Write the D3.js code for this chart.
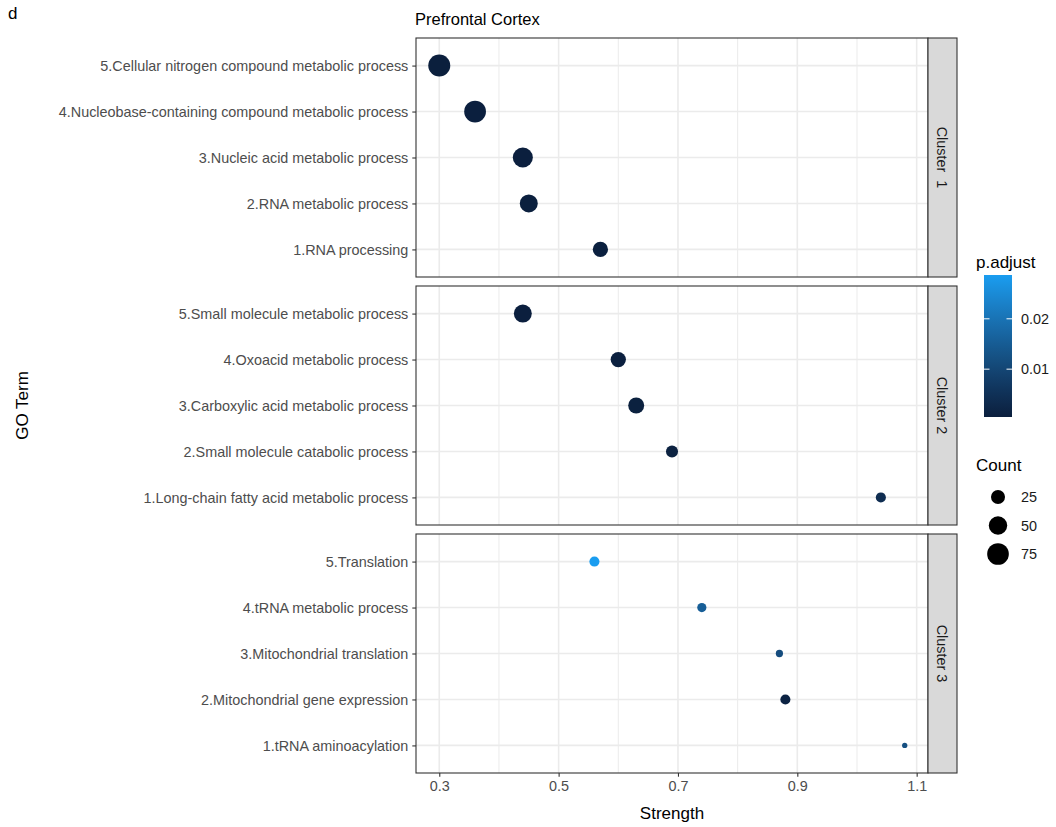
<!DOCTYPE html>
<html lang="en">
<head>
  <meta charset="UTF-8" />
  <title>Prefrontal Cortex GO terms</title>
  <script src="https://d3js.org/d3.v7.min.js"></script>
  <style>
    body { margin: 0; background: #fff; font-family: "Liberation Sans", Arial, sans-serif; }
    svg { display: block; }
  </style>
</head>
<body>
<svg width="1056" height="827"></svg>
<script>
// facets, terms listed top to bottom inside each facet
const clusters = ["Cluster  1", "Cluster 2", "Cluster 3"];
const terms = [
  ["5.Cellular nitrogen compound metabolic process",
   "4.Nucleobase-containing compound metabolic process",
   "3.Nucleic acid metabolic process",
   "2.RNA metabolic process",
   "1.RNA processing"],
  ["5.Small molecule metabolic process",
   "4.Oxoacid metabolic process",
   "3.Carboxylic acid metabolic process",
   "2.Small molecule catabolic process",
   "1.Long-chain fatty acid metabolic process"],
  ["5.Translation",
   "4.tRNA metabolic process",
   "3.Mitochondrial translation",
   "2.Mitochondrial gene expression",
   "1.tRNA aminoacylation"]
];
const strength = [
  [0.30, 0.36, 0.44, 0.45, 0.57],
  [0.44, 0.60, 0.63, 0.69, 1.04],
  [0.56, 0.74, 0.87, 0.88, 1.08]
];
const counts = [
  [78, 76, 62, 47, 31],
  [47, 31, 35, 17, 11],
  [11, 9, 6, 11, 5]
];
const padjust = [
  [0.0005, 0.0006, 0.0006, 0.0007, 0.0008],
  [0.0006, 0.0008, 0.0009, 0.0012, 0.0040],
  [0.0287, 0.0155, 0.0115, 0.0015, 0.0120]
];
const xTicks = [0.3, 0.5, 0.7, 0.9, 1.1];
const xMinor = [0.4, 0.6, 0.8, 1.0];
const colorTicks = [0.01, 0.02];
const sizeBreaks = [25, 50, 75];

const rows = [];
clusters.forEach((c, i) => terms[i].forEach((t, j) => rows.push({
  cluster: i, term: t, strength: strength[i][j], count: counts[i][j], p: padjust[i][j]
})));

const svg = d3.select("svg");
const panelL = 416, panelR = 928, stripW = 29;
const panelH = 239, panelTops = [38, 286, 534];
const tickFont = "14.4px", titleFont = "17px";

// ggplot-like 5% expansion
const ext = d3.extent(rows, d => d.strength);
const pad = (ext[1] - ext[0]) * 0.05;
const x = d3.scaleLinear().domain([ext[0] - pad, ext[1] + pad]).range([panelL, panelR]);

const pExt = d3.extent(rows, d => d.p);
const color = d3.scaleLinear().domain(pExt).range(["#0b1f3d", "#1a9df0"]).interpolate(d3.interpolateLab);

const cExt = d3.extent(rows, d => d.count);
const norm = d3.scaleLinear().domain(cExt).clamp(true);
const rad = d3.scaleLinear().domain([0, 1]).range([2.65, 11]);
const radius = c => rad(Math.sqrt(norm(c)));

// label and title
svg.append("text").attr("x", 8).attr("y", 19).style("font-size", "17px").text("d");
svg.append("text").attr("x", panelL - 1).attr("y", 25).style("font-size", "16.5px").text("Prefrontal Cortex");

clusters.forEach((c, i) => {
  const top = panelTops[i];
  const y = d3.scalePoint().domain(terms[i]).range([top, top + panelH]).padding(0.6);
  const g = svg.append("g");

  g.append("rect").attr("x", panelL).attr("y", top).attr("width", panelR - panelL).attr("height", panelH)
    .attr("fill", "#fff");

  // grid
  g.selectAll(".minor").data(xMinor).enter().append("line")
    .attr("x1", d => x(d)).attr("x2", d => x(d)).attr("y1", top).attr("y2", top + panelH)
    .attr("stroke", "#ebebeb").attr("stroke-width", 1);
  g.selectAll(".major").data(xTicks).enter().append("line")
    .attr("x1", d => x(d)).attr("x2", d => x(d)).attr("y1", top).attr("y2", top + panelH)
    .attr("stroke", "#ebebeb").attr("stroke-width", 1.6);
  g.selectAll(".hgrid").data(terms[i]).enter().append("line")
    .attr("x1", panelL).attr("x2", panelR).attr("y1", d => y(d)).attr("y2", d => y(d))
    .attr("stroke", "#ebebeb").attr("stroke-width", 1.6);

  // points
  g.selectAll("circle").data(rows.filter(d => d.cluster === i)).enter().append("circle")
    .attr("cx", d => x(d.strength)).attr("cy", d => y(d.term))
    .attr("r", d => radius(d.count)).attr("fill", d => color(d.p));

  // border
  g.append("rect").attr("x", panelL).attr("y", top).attr("width", panelR - panelL).attr("height", panelH)
    .attr("fill", "none").attr("stroke", "#333").attr("stroke-width", 1.1);

  // y axis
  const ay = g.append("g").attr("transform", `translate(${panelL},0)`)
    .call(d3.axisLeft(y).tickSize(3.7).tickPadding(4));
  ay.select(".domain").remove();
  ay.selectAll("line").attr("stroke", "#333").attr("stroke-width", 1.1);
  ay.selectAll("text").attr("fill", "#4d4d4d").style("font-size", tickFont)
    .style("font-family", "'Liberation Sans', Arial, sans-serif");

  // strip
  g.append("rect").attr("x", panelR).attr("y", top).attr("width", stripW).attr("height", panelH)
    .attr("fill", "#d9d9d9").attr("stroke", "#333").attr("stroke-width", 1.1);
  g.append("text")
    .attr("transform", `translate(${panelR + stripW / 2},${top + panelH / 2}) rotate(90)`)
    .attr("text-anchor", "middle").attr("dy", "0.35em")
    .style("font-size", tickFont).style("white-space", "pre").attr("fill", "#1a1a1a")
    .text(c);
});

// x axis
const axisY = panelTops[2] + panelH;
const ax = svg.append("g").attr("transform", `translate(0,${axisY})`)
  .call(d3.axisBottom(x).tickValues(xTicks).tickFormat(d3.format(".1f")).tickSize(3.7).tickPadding(4));
ax.select(".domain").remove();
ax.selectAll("line").attr("stroke", "#333").attr("stroke-width", 1.1);
ax.selectAll("text").attr("fill", "#4d4d4d").style("font-size", tickFont)
  .style("font-family", "'Liberation Sans', Arial, sans-serif");

svg.append("text").attr("x", (panelL + panelR) / 2).attr("y", 819)
  .attr("text-anchor", "middle").style("font-size", titleFont).text("Strength");
svg.append("text").attr("transform", `translate(28,${(panelTops[0] + axisY) / 2}) rotate(-90)`)
  .attr("text-anchor", "middle").style("font-size", titleFont).text("GO Term");

// colour legend
const legX = 984, barW = 28, barTop = 275, barBot = 417;
svg.append("text").attr("x", legX - 8).attr("y", 268).style("font-size", titleFont).text("p.adjust");
const grad = svg.append("defs").append("linearGradient").attr("id", "pgrad")
  .attr("x1", 0).attr("x2", 0).attr("y1", 1).attr("y2", 0);
d3.range(0, 1.0001, 0.1).forEach(t => {
  grad.append("stop").attr("offset", t).attr("stop-color", color(pExt[0] + t * (pExt[1] - pExt[0])));
});
svg.append("rect").attr("x", legX).attr("y", barTop).attr("width", barW).attr("height", barBot - barTop)
  .attr("fill", "url(#pgrad)");
const cy = d3.scaleLinear().domain(pExt).range([barBot, barTop]);
colorTicks.forEach(v => {
  svg.append("line").attr("x1", legX).attr("x2", legX + 5.5).attr("y1", cy(v)).attr("y2", cy(v))
    .attr("stroke", "#fff").attr("stroke-width", 1);
  svg.append("line").attr("x1", legX + barW - 5.5).attr("x2", legX + barW).attr("y1", cy(v)).attr("y2", cy(v))
    .attr("stroke", "#fff").attr("stroke-width", 1);
  svg.append("text").attr("x", legX + barW + 9).attr("y", cy(v)).attr("dy", "0.35em")
    .style("font-size", tickFont).attr("fill", "#1a1a1a").text(v.toFixed(2));
});

// size legend
svg.append("text").attr("x", legX - 8).attr("y", 471).style("font-size", titleFont).text("Count");
sizeBreaks.forEach((v, k) => {
  const yy = 497 + k * 28.5;
  svg.append("circle").attr("cx", legX + 14).attr("cy", yy).attr("r", radius(v)).attr("fill", "#000");
  svg.append("text").attr("x", legX + barW + 9).attr("y", yy).attr("dy", "0.35em")
    .style("font-size", tickFont).attr("fill", "#1a1a1a").text(v);
});
</script>
</body>
</html>
